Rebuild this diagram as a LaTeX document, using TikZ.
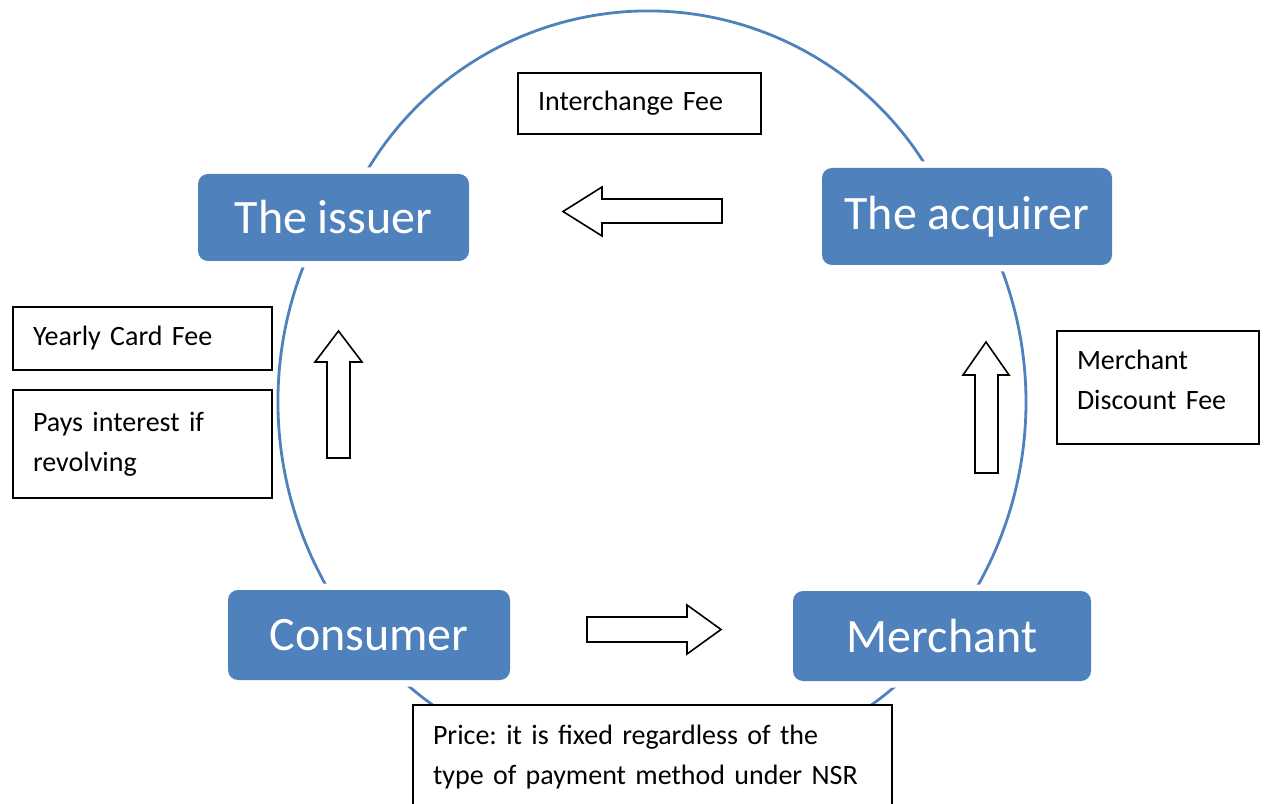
\documentclass[tikz,border=0pt]{standalone}
\usepackage{fontspec}
\setmainfont{Carlito}
\frenchspacing
\definecolor{cycleblue}{HTML}{4F81BD}

\begin{document}
\begin{tikzpicture}[x=0.5pt,y=0.5pt,
  party/.style={rounded corners=5pt, fill=cycleblue, text=white, inner sep=0pt,
    font=\fontsize{24}{28}\selectfont, minimum height=45pt,
    preaction={draw=white, line width=6.5pt}},
  feebox/.style={draw=black, line width=1pt, fill=white, align=left,
    inner xsep=10pt, inner ysep=0pt, font=\fontsize{14}{20}\selectfont},
  blockarrow/.style={draw=black, line width=0.8pt, fill=white, line join=miter}]
  % Page frame
  \useasboundingbox (0,0) rectangle (1267,803);
  \clip (0,0) rectangle (1267,803);
  % Ring: lower part, then the bow over the top
  \draw[cycleblue, line width=1.4pt] (652,401) ++(150:374)
    arc[start angle=150, end angle=390, radius=374];
  \draw[cycleblue, line width=1.4pt] (648,465) ++(155:327)
    arc[start angle=155, end angle=25, radius=327];
  % Parties
  \node[party, minimum width=135.5pt, minimum height=43.5pt] (issuer) at (333.5,585.5) {The issuer};
  \node[party, minimum width=145pt, minimum height=48.5pt] (acquirer) at (967,586.5) {The acquirer};
  \node[party, minimum width=141pt] (consumer) at (369,168) {Consumer};
  \node[party, minimum width=149pt] (merchant) at (942,167) {Merchant};
  % Fees
  \node[feebox, anchor=north west, text width=101.5pt, minimum height=30.5pt] (interchange) at (517,731) {Interchange Fee};
  \node[feebox, anchor=north west, text width=109.5pt, minimum height=31.5pt] (yearly) at (12,497) {Yearly Card Fee};
  \node[feebox, anchor=north west, text width=109.5pt, minimum height=54pt] (interest) at (12,414) {Pays interest if\\revolving};
  % extra depth on the last line lifts the two lines towards the top
  \node[feebox, anchor=north west, text width=81pt, minimum height=56.5pt] (discount) at (1056,473)
    {Merchant\\Discount Fee\rule[-8pt]{0pt}{8pt}};
  \node[feebox, anchor=north west, text width=219.5pt, inner ysep=10pt] (price) at (412,99)
    {Price: it is fixed regardless of the\\type of payment method under NSR};
  % Flow arrows
  \draw[blockarrow] (722,604) -- (602,604) -- (602,616) -- (563,591.5) -- (602,567) -- (602,580) -- (722,580) -- cycle;
  \draw[blockarrow] (327,345) -- (327,441) -- (315,441) -- (338.5,472) -- (362,441) -- (350,441) -- (350,345) -- cycle;
  \draw[blockarrow] (975,330) -- (975,428) -- (963,428) -- (986,461) -- (1009,428) -- (998,428) -- (998,330) -- cycle;
  \draw[blockarrow] (587,186) -- (687,186) -- (687,198) -- (721,173.5) -- (687,149) -- (687,161) -- (587,161) -- cycle;
\end{tikzpicture}
\end{document}
